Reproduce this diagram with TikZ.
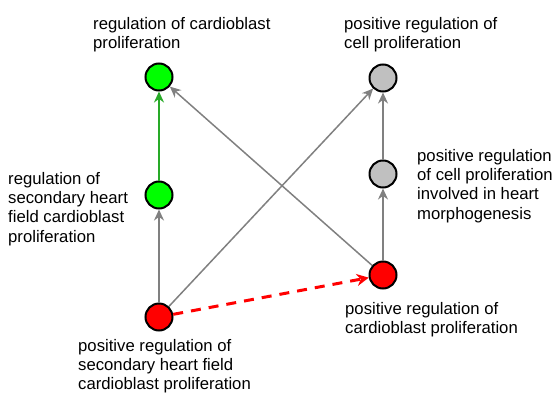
\documentclass[tikz,border=0pt]{standalone}
\usepackage{fontspec}
\setmainfont{Liberation Sans}
\usetikzlibrary{arrows.meta}
\definecolor{nodegreen}{RGB}{0,255,0}
\definecolor{nodered}{RGB}{255,0,0}
\definecolor{nodegrey}{RGB}{192,192,192}
\definecolor{edgegrey}{RGB}{128,128,128}
\definecolor{edgegreen}{RGB}{40,170,40}
\begin{document}
\begin{tikzpicture}[x=1pt,y=-1pt,
  term/.style={circle,draw=black,line width=2pt,minimum size=27pt,inner sep=0pt},
  lab/.style={anchor=north west,inner sep=0pt,align=left,font=\fontsize{16.7}{19.3}\selectfont},
  gedge/.style={draw=edgegrey,line width=1.5pt,-{Stealth[length=11pt,width=10pt]}},
  grnedge/.style={draw=edgegreen,line width=1.5pt,-{Stealth[length=11pt,width=10pt]}},
  redge/.style={draw=nodered,line width=3pt,dash pattern=on 10pt off 8pt,-{Stealth[length=12pt,width=12pt]}}]
\useasboundingbox (0,0) rectangle (556,393);
\node[term,fill=nodegreen] (A) at (159,77) {};
\node[term,fill=nodegreen] (B) at (159,195) {};
\node[term,fill=nodered] (C) at (159,317) {};
\node[term,fill=nodegrey] (D) at (383,78) {};
\node[term,fill=nodegrey] (E) at (383,174) {};
\node[term,fill=nodered] (F) at (383,275) {};
\draw[gedge] (C) -- (B);
\draw[grnedge] (B) -- (A);
\draw[gedge] (C) -- (D);
\draw[gedge] (F) -- (A);
\draw[gedge] (F) -- (E);
\draw[gedge] (E) -- (D);
\draw[redge] (C) -- (F);
\node[lab] (lA) at (93,17) {regulation of cardioblast\\proliferation};
\node[lab] (lD) at (344,17) {positive regulation of\\cell proliferation};
\node[lab] (lB) at (8,172) {regulation of\\secondary heart\\field cardioblast\\proliferation};
\node[lab] (lE) at (417,149) {positive regulation\\of cell proliferation\\involved in heart\\morphogenesis};
\node[lab] (lC) at (78,339) {positive regulation of\\secondary heart field\\cardioblast proliferation};
\node[lab] (lF) at (345,302) {positive regulation of\\cardioblast proliferation};
\end{tikzpicture}
\end{document}
